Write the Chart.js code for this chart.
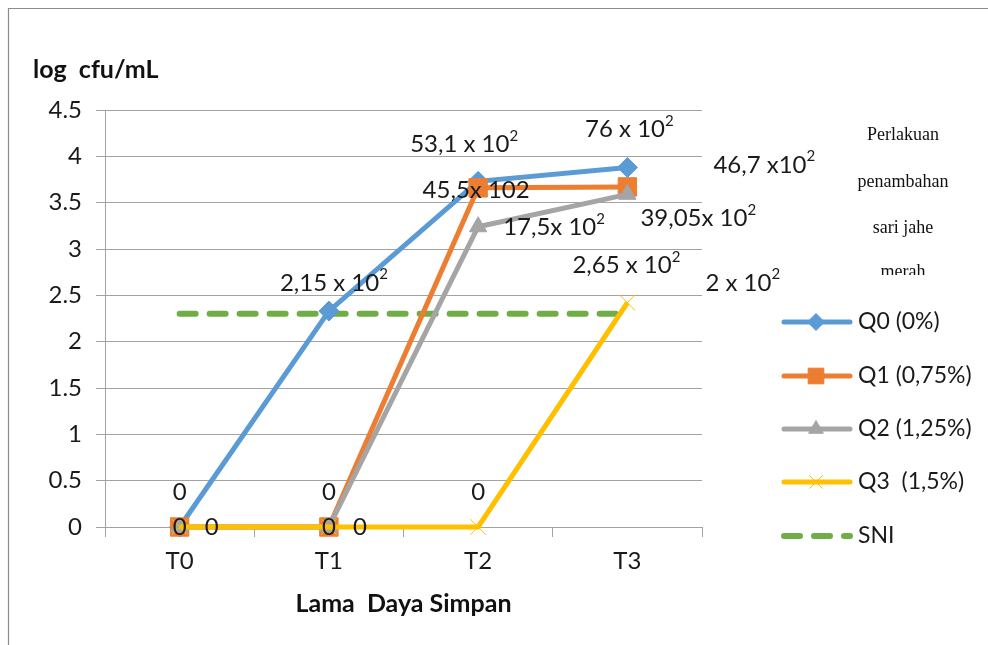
<!DOCTYPE html>
<html>
<head>
<meta charset="utf-8">
<script src="https://cdn.jsdelivr.net/npm/chart.js@4/dist/chart.umd.min.js"></script>
<style>
  html, body { margin: 0; padding: 0; background: #fff; }
  canvas { display: block; }
</style>
</head>
<body>
<canvas id="chart" width="988" height="645"></canvas>
<script>
// Storage time categories
const categories = ['T0', 'T1', 'T2', 'T3'];
const seriesNames = ['Q0 (0%)', 'Q1 (0,75%)', 'Q2 (1,25%)', 'Q3  (1,5%)', 'SNI'];
const yTickLabels = ['0', '0.5', '1', '1.5', '2', '2.5', '3', '3.5', '4', '4.5'];

// Microbial count, log cfu/mL
const q0Values = [0, 2.33, 3.73, 3.88];
const q1Values = [0, 0, 3.66, 3.67];
const q2Values = [0, 0, 3.24, 3.59];
const q3Values = [0, 0, 0, 2.42];
const sniValues = [2.30, 2.30, 2.30, 2.30];

// Counts written next to the points (cfu/mL, "^" marks a superscript)
const q0Labels = ['0', '2,15 x 10^2', '53,1 x 10^2', '76 x 10^2'];
const q1Labels = ['0', '0', '45,5x 102', '46,7 x10^2'];
const q2Labels = ['0', '0', '17,5x 10^2', '39,05x 10^2'];
const q3Labels = ['', '0', '0', '2,65 x 10^2'];
const sniLabels = ['', '', '', '2 x 10^2'];

const legendTitleLines = ['Perlakuan', 'penambahan', 'sari jahe', 'merah'];

const FONT = 'Lato, "Open Sans", sans-serif';
const TEXT = '#1a1a1a';
const GRID = '#a3a3a3';

const COLORS = {
  q0: '#5B9BD5', q1: '#ED7D31', q2: '#A5A5A5', q3: '#FFC000', sni: '#70AD47'
};

// label placement for each point: [dx, dy, align]
const placeQ0 = [[0, -35, 'center'], [5, -28, 'center'], [-14, -37, 'center'], [2, -38, 'center']];
const placeQ1 = [[0, 0, 'center'], [0, 0, 'center'], [-2, 2, 'center'], [86, -22, 'left']];
const placeQ2 = [[25, 0, 'left'], [24, 0, 'left'], [25, 1, 'left'], [13, 24, 'left']];
const placeQ3 = [[0, -35, 'center'], [0, -35, 'center'], [0, -35, 'center'], [-1, -37, 'center']];
const placeSni = [[0, 0, 'left'], [0, 0, 'left'], [0, 0, 'left'], [78, -31, 'left']];

function drawRich(ctx, text, x, y, align, size) {
  const parts = text.split('^');
  const base = parts[0];
  const sup = parts[1] || '';
  ctx.font = size + 'px ' + FONT;
  const wb = ctx.measureText(base).width;
  const supSize = Math.round(size * 0.64);
  ctx.font = supSize + 'px ' + FONT;
  const ws = sup ? ctx.measureText(sup).width : 0;
  const total = wb + ws;
  let sx = align === 'center' ? x - total / 2 : x;
  ctx.textAlign = 'left';
  ctx.textBaseline = 'middle';
  ctx.fillStyle = TEXT;
  ctx.font = size + 'px ' + FONT;
  ctx.fillText(base, sx, y);
  if (sup) {
    ctx.font = supSize + 'px ' + FONT;
    ctx.fillText(sup, sx + wb, y - size * 0.36);
  }
}

const framePlugin = {
  id: 'frame',
  beforeDraw(chart) {
    const ctx = chart.ctx;
    ctx.save();
    ctx.fillStyle = '#ffffff';
    ctx.fillRect(0, 0, chart.width, chart.height);
    ctx.strokeStyle = '#8c8c8c';
    ctx.lineWidth = 1.2;
    ctx.beginPath();
    ctx.moveTo(8.5, chart.height);
    ctx.lineTo(8.5, 8.5);
    ctx.lineTo(chart.width, 8.5);
    ctx.stroke();
    // vertical axis title
    ctx.fillStyle = '#111';
    ctx.font = 'bold 25px ' + FONT;
    ctx.textAlign = 'left';
    ctx.textBaseline = 'middle';
    ctx.fillText('log  cfu/mL', 33, 70);
    ctx.restore();
  }
};

const labelPlugin = {
  id: 'pointLabels',
  afterDatasetsDraw(chart) {
    const ctx = chart.ctx;
    ctx.save();
    chart.data.datasets.forEach((ds, di) => {
      const meta = chart.getDatasetMeta(di);
      ds.pointLabels.forEach((txt, i) => {
        if (!txt) return;
        const pt = meta.data[i];
        const [dx, dy, align] = ds.labelPlace[i];
        drawRich(ctx, txt, pt.x + dx, pt.y + dy, align, 24);
      });
    });
    ctx.restore();
  }
};

const legendPlugin = {
  id: 'sideLegend',
  afterDraw(chart) {
    const ctx = chart.ctx;
    ctx.save();
    // legend heading, serif, clipped at its last line
    ctx.save();
    ctx.beginPath();
    ctx.rect(780, 100, 208, 175);
    ctx.clip();
    ctx.fillStyle = '#111';
    ctx.font = '18px "Liberation Serif", "Times New Roman", serif';
    ctx.textAlign = 'center';
    ctx.textBaseline = 'middle';
    const ty = [135, 182, 228, 272];
    legendTitleLines.forEach((t, i) => ctx.fillText(t, 903, ty[i]));
    ctx.restore();

    const rows = [322, 376, 429, 482, 536];
    chart.data.datasets.forEach((ds, i) => {
      const y = rows[i];
      ctx.save();
      ctx.strokeStyle = ds.borderColor;
      ctx.lineWidth = ds.borderWidth;
      ctx.lineCap = 'round';
      if (ds.borderDash && ds.borderDash.length) ctx.setLineDash(ds.borderDash);
      ctx.beginPath();
      ctx.moveTo(784, y);
      ctx.lineTo(850, y);
      ctx.stroke();
      ctx.restore();
      if (ds.pointRadius > 0) {
        ctx.save();
        ctx.fillStyle = ds.pointBackgroundColor;
        ctx.strokeStyle = ds.pointBorderColor;
        ctx.lineWidth = ds.pointBorderWidth;
        Chart.helpers.drawPoint(ctx, {
          pointStyle: ds.pointStyle, radius: ds.pointRadius * 0.85, rotation: 0, borderWidth: ds.pointBorderWidth
        }, 816, y);
        ctx.restore();
      }
      ctx.fillStyle = TEXT;
      ctx.font = '23px ' + FONT;
      ctx.textAlign = 'left';
      ctx.textBaseline = 'middle';
      ctx.fillText(seriesNames[i], 858, y);
    });
    ctx.restore();
  }
};

function series(name, values, color, style, radius, labels, place, order, extra) {
  return Object.assign({
    label: name,
    data: values,
    borderColor: color,
    backgroundColor: color,
    pointBackgroundColor: color,
    pointBorderColor: color,
    pointStyle: style,
    pointRadius: radius,
    pointBorderWidth: 1,
    borderWidth: 5,
    tension: 0,
    fill: false,
    clip: false,
    order: order,
    pointLabels: labels,
    labelPlace: place
  }, extra || {});
}

new Chart(document.getElementById('chart'), {
  type: 'line',
  data: {
    labels: categories,
    datasets: [
      series(seriesNames[0], q0Values, COLORS.q0, 'rectRot', 10, q0Labels, placeQ0, 3),
      series(seriesNames[1], q1Values, COLORS.q1, 'rect', 13, q1Labels, placeQ1, 2),
      series(seriesNames[2], q2Values, COLORS.q2, 'triangle', 10, q2Labels, placeQ2, 1),
      series(seriesNames[3], q3Values, COLORS.q3, 'crossRot', 11, q3Labels, placeQ3, 0),
      series(seriesNames[4], sniValues, COLORS.sni, 'circle', 0, sniLabels, placeSni, 4,
        { borderDash: [16, 14], borderCapStyle: 'round', borderWidth: 6 })
    ]
  },
  options: {
    responsive: false,
    animation: false,
    devicePixelRatio: 1,
    layout: { padding: { left: 0, top: 110, right: 286, bottom: 0 } },
    plugins: {
      legend: { display: false },
      tooltip: { enabled: false }
    },
    scales: {
      x: {
        offset: true,
        grid: { offset: true, drawOnChartArea: false, drawTicks: true, tickLength: 10, color: GRID },
        border: { color: GRID, width: 1 },
        ticks: { color: TEXT, font: { family: FONT, size: 24 }, padding: 10 },
        title: {
          display: true, text: 'Lama  Daya Simpan', color: '#111',
          font: { family: FONT, size: 25, weight: 'bold' },
          padding: { top: 0, bottom: 26 }
        },
        afterFit(scale) { scale.height = 118; }
      },
      y: {
        min: 0, max: 4.5,
        ticks: {
          stepSize: 0.5, color: TEXT, padding: 14,
          font: { family: FONT, size: 24 },
          callback: (v, i) => yTickLabels[i]
        },
        grid: { color: GRID, tickLength: 9 },
        border: { color: GRID, width: 1 },
        afterFit(scale) { scale.width = 105; }
      }
    }
  },
  plugins: [framePlugin, labelPlugin, legendPlugin]
});
</script>
</body>
</html>
